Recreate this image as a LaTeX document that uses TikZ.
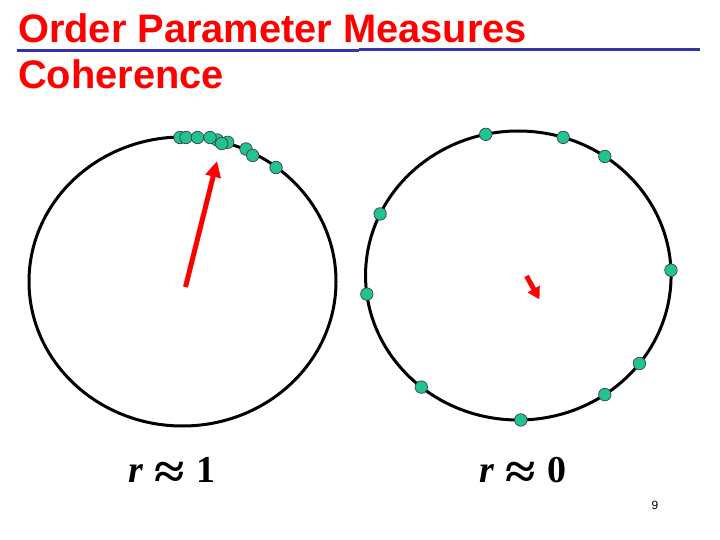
\documentclass[tikz,border=0pt]{standalone}
\usepackage{fontspec}
\setmainfont{Liberation Serif}
\newfontfamily\headfont{Liberation Sans}
\usetikzlibrary{shapes.geometric,arrows.meta}
\definecolor{dotgreen}{RGB}{32,196,146}
\definecolor{rulefill}{RGB}{50,50,170}
\newcommand{\bigapprox}{\hspace{0.3em}\raisebox{-0.17em}{\scalebox{1.45}[1.3]{\textbf{≈}}}\hspace{0.3em}}
\tikzset{
  ring/.style={draw=black, line width=3pt, ellipse, inner sep=0pt, outer sep=0pt},
  osc/.style={circle, draw=black!75, line width=0.7pt, fill=dotgreen, inner sep=0pt, minimum size=12.5pt},
  orderarrow/.style={draw=red, line width=5pt, -{Triangle[length=16pt,width=15pt]}},
  smallarrow/.style={draw=red, line width=5pt, -{Triangle[length=12pt,width=13pt]}},
  titletext/.style={anchor=base west, text=red, font=\headfont\bfseries\fontsize{39.8}{46}\selectfont, inner sep=0pt},
  rlabel/.style={anchor=base, font=\fontsize{38}{44}\selectfont, inner sep=0pt},
  titlerule/.style={draw=rulefill, line width=3pt},
}
\begin{document}
\begin{tikzpicture}[x=1pt,y=-1pt]
\useasboundingbox (0,0) rectangle (720,540);
% title
\node[titletext] (t1) at (18,42.5) {Order Parameter Measures};
\node[titletext] (t2) at (18,88.5) {Coherence};
\coordinate (ra) at (17,51);
\coordinate (rb) at (359,51);
\coordinate (rc) at (359,50);
\coordinate (rd) at (700,50);
\draw[titlerule] (ra) -- (rb);
\draw[titlerule] (rc) -- (rd);
% left circle (coherent)
\node[ring, minimum width=307pt, minimum height=289pt] (L) at (182.5,281.5) {};
\node[osc] (l1) at (180,137.5) {};
\node[osc] (l2) at (186,137.5) {};
\node[osc] (l3) at (197.5,137.5) {};
\node[osc] (l5) at (217.3,140) {};
\node[osc] (l7) at (227.7,142.3) {};
\node[osc] (l4) at (210,137.5) {};
\node[osc] (l6) at (221.7,143.5) {};
\node[osc] (l8) at (246,149) {};
\node[osc] (l9) at (252.7,155.5) {};
\node[osc] (l10) at (276,167.5) {};
\coordinate (la) at (185.5,287);
\coordinate (lb) at (217,161);
\draw[orderarrow] (la) -- (lb);
% right circle (incoherent)
\node[ring, minimum width=305.5pt, minimum height=289pt] (R) at (518.3,275.5) {};
\foreach \a [count=\i] in {103.8,72.7,54.0,156.4,2.1,187.0,324.4,229.3,306.8,271.0}
  \node[osc] (r\i) at (R.\a) {};
\coordinate (ra2) at (526.5,276);
\coordinate (rb2) at (539.5,299.5);
\draw[smallarrow] (ra2) -- (rb2);
% labels
\node[rlabel] (lab1) at (172,482) {\textbf{\textit{r}}\bigapprox\textbf{1}};
\node[rlabel] (lab2) at (523,482) {\textbf{\textit{r}}\bigapprox\textbf{0}};
\node[anchor=base, font=\headfont\fontsize{12}{14}\selectfont, inner sep=0pt] (pg) at (655,509) {9};
\end{tikzpicture}
\end{document}
